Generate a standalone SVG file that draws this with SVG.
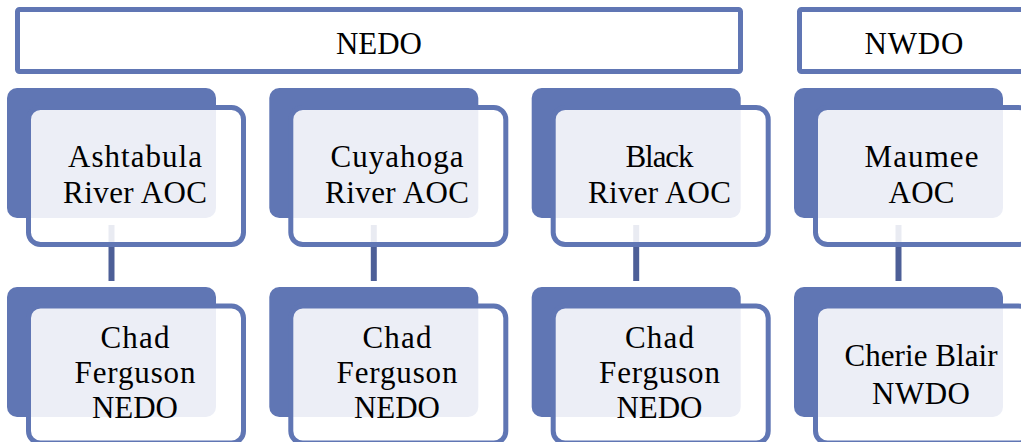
<svg xmlns="http://www.w3.org/2000/svg" width="1021" height="442" viewBox="0 0 1021 442">
<style>
.hdr{fill:#ffffff;stroke:#6076B4;stroke-width:5}
.back{fill:#6076B4}
.front{fill:#ffffff;fill-opacity:0.88;stroke:#6076B4;stroke-width:5}
.conn{stroke:#4D5F97;stroke-width:6;fill:none}
text{font-family:"Liberation Serif","Times New Roman",serif;font-size:31px;fill:#000;text-anchor:middle}
</style>
<rect width="1021" height="442" fill="#ffffff"/>
<g id="header-nedo">
<rect class="hdr" x="17.5" y="9.5" width="723" height="62" rx="2"/>
<text x="379" y="54" textLength="86">NEDO</text>
</g>
<g id="header-nwdo">
<rect class="hdr" x="799.5" y="9.5" width="240" height="62" rx="2"/>
<text x="914" y="54" textLength="99">NWDO</text>
</g>
<g id="connectors">
<line class="conn" x1="111.5" y1="225" x2="111.5" y2="281"/>
<line class="conn" x1="373.8" y1="225" x2="373.8" y2="281"/>
<line class="conn" x1="636.2" y1="225" x2="636.2" y2="281"/>
<line class="conn" x1="898.5" y1="225" x2="898.5" y2="281"/>
</g>
<g id="ashtabula">
<rect class="back" x="7" y="88" width="209" height="130" rx="10"/>
<rect class="front" x="28.5" y="107.5" width="215" height="137" rx="12"/>
<text x="135" y="167" textLength="134">Ashtabula</text>
<text x="135" y="203" textLength="144">River AOC</text>
</g>
<g id="cuyahoga">
<rect class="back" x="269.3" y="88" width="209" height="130" rx="10"/>
<rect class="front" x="290.8" y="107.5" width="215" height="137" rx="12"/>
<text x="397" y="167" textLength="133">Cuyahoga</text>
<text x="397" y="203" textLength="144">River AOC</text>
</g>
<g id="black">
<rect class="back" x="531.7" y="88" width="209" height="130" rx="10"/>
<rect class="front" x="553.2" y="107.5" width="215" height="137" rx="12"/>
<text x="659.5" y="167" textLength="68">Black</text>
<text x="659.5" y="203" textLength="143">River AOC</text>
</g>
<g id="maumee">
<rect class="back" x="794" y="88" width="209" height="130" rx="10"/>
<rect class="front" x="815.5" y="107.5" width="215" height="137" rx="12"/>
<text x="921.5" y="167" textLength="114">Maumee</text>
<text x="921.5" y="203" textLength="66">AOC</text>
</g>
<g id="ferguson-1">
<rect class="back" x="7" y="287" width="209" height="130" rx="10"/>
<rect class="front" x="28.5" y="306" width="215" height="137" rx="12"/>
<text x="135" y="348" textLength="69">Chad</text>
<text x="135" y="383" textLength="121">Ferguson</text>
<text x="135" y="418" textLength="86">NEDO</text>
</g>
<g id="ferguson-2">
<rect class="back" x="269.3" y="287" width="209" height="130" rx="10"/>
<rect class="front" x="290.8" y="306" width="215" height="137" rx="12"/>
<text x="397" y="348" textLength="69">Chad</text>
<text x="397" y="383" textLength="121">Ferguson</text>
<text x="397" y="418" textLength="86">NEDO</text>
</g>
<g id="ferguson-3">
<rect class="back" x="531.7" y="287" width="209" height="130" rx="10"/>
<rect class="front" x="553.2" y="306" width="215" height="137" rx="12"/>
<text x="659.5" y="348" textLength="69">Chad</text>
<text x="659.5" y="383" textLength="121">Ferguson</text>
<text x="659.5" y="418" textLength="86">NEDO</text>
</g>
<g id="blair">
<rect class="back" x="794" y="287" width="209" height="130" rx="10"/>
<rect class="front" x="815.5" y="306" width="215" height="137" rx="12"/>
<text x="921" y="366" textLength="153">Cherie Blair</text>
<text x="921" y="404" textLength="98">NWDO</text>
</g>
</svg>
